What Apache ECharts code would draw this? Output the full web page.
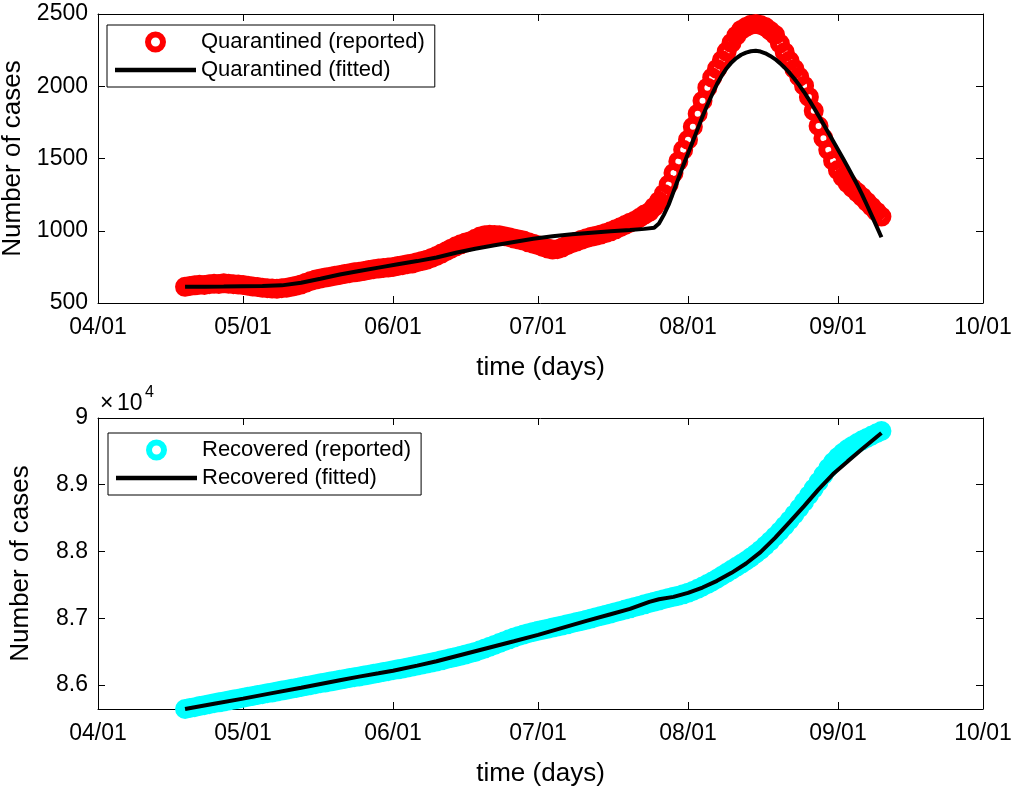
<!DOCTYPE html>
<html>
<head>
<meta charset="utf-8">
<script src="https://cdn.jsdelivr.net/npm/echarts@6/dist/echarts.min.js"></script>
<style>
html,body{margin:0;padding:0;background:#fff;}
#chart{width:1021px;height:798px;}
</style>
</head>
<body>
<div id="chart"></div>
<script>
// ---------- data ----------
// reported series start on 2020-04-19, one value per day
const reportStart = '2020-04-19';
const monthTicks = ['2020-04-01','2020-05-01','2020-06-01','2020-07-01','2020-08-01','2020-09-01','2020-10-01'];
const axisStart = '2020-04-01';
const axisEnd = '2020-10-01';

const quarantinedReported = [
  612, 618, 622, 626, 625, 630, 633, 632, 636, 634,
  630, 628, 624, 620, 614, 610, 605, 602, 600, 599,
  602, 606, 612, 620, 628, 640, 652, 662, 670, 676,
  682, 688, 694, 700, 706, 712, 716, 722, 728, 734,
  738, 742, 746, 750, 756, 762, 768, 774, 782, 790,
  800, 812, 826, 842, 858, 876, 892, 906, 918, 928,
  944, 960, 968, 972, 970, 968, 962, 955, 946, 940,
  932, 920, 910, 900, 888, 878, 870, 872, 884, 900,
  914, 926, 938, 948, 958, 966, 974, 984, 996, 1010,
  1024, 1040, 1056, 1070, 1090, 1112, 1130, 1165, 1205, 1255,
  1320, 1400, 1480, 1560, 1630, 1720, 1810, 1900, 1990, 2060,
  2120, 2180, 2240, 2300, 2350, 2390, 2410, 2426, 2430, 2424,
  2410, 2384, 2356, 2296, 2236, 2176, 2120, 2066, 2004, 1926,
  1830, 1725, 1640, 1560, 1485, 1420, 1370, 1330, 1296, 1266,
  1234, 1200, 1166, 1132, 1098
];

// fitted curve sampled at these days after 04/01
const quarantinedFitDays = [18, 22, 26, 30, 34, 38, 42, 46, 50, 54, 58, 62, 66, 70, 74, 78, 82, 86, 90, 94, 98, 102, 106, 110, 113, 115,
  116, 117, 118, 119, 120, 121, 122, 123, 124, 125, 126, 127, 128, 129, 130, 131, 132, 133, 134, 135, 136, 137, 138, 139,
  140, 141, 142, 143, 144, 145, 146, 147, 148, 149, 150, 151, 152, 153, 154, 155, 156, 157, 158, 159, 160, 161, 162];
const quarantinedFitted = [612, 613, 614, 616, 618, 622, 640, 668, 697, 722, 745, 768, 790, 815, 848, 876, 900, 922, 944, 962, 975, 986, 996, 1005, 1013, 1020,
  1050, 1110, 1180, 1270, 1360, 1450, 1535, 1620, 1705, 1790, 1870, 1945, 2015, 2075, 2125, 2165, 2195, 2218, 2233, 2242, 2245, 2240, 2228, 2210,
  2188, 2160, 2128, 2092, 2052, 2008, 1960, 1908, 1853, 1796, 1738, 1680, 1621, 1562, 1503, 1443, 1381, 1318, 1250, 1178, 1105, 1030, 955];

const recoveredReported = [
  85640, 85655, 85668, 85684, 85697, 85712, 85726, 85740, 85754, 85768,
  85781, 85795, 85810, 85823, 85836, 85849, 85862, 85876, 85889, 85902,
  85916, 85929, 85943, 85956, 85969, 85983, 85997, 86011, 86025, 86038,
  86051, 86064, 86077, 86090, 86103, 86116, 86128, 86141, 86154, 86167,
  86180, 86193, 86206, 86220, 86234, 86248, 86262, 86277, 86292, 86307,
  86322, 86337, 86353, 86369, 86386, 86403, 86420, 86438, 86456, 86475,
  86495, 86520, 86546, 86572, 86600, 86628, 86656, 86684, 86710, 86734,
  86756, 86776, 86795, 86812, 86828, 86844, 86860, 86876, 86892, 86908,
  86925, 86942, 86960, 86978, 86996, 87015, 87034, 87053, 87072, 87091,
  87110, 87129, 87148, 87168, 87188, 87208, 87228, 87248, 87267, 87285,
  87303, 87320, 87338, 87358, 87380, 87408, 87440, 87475, 87512, 87550,
  87592, 87636, 87680, 87725, 87770, 87815, 87862, 87912, 87966, 88024,
  88088, 88156, 88228, 88304, 88384, 88468, 88556, 88648, 88744, 88842,
  88942, 89044, 89148, 89250, 89340, 89415, 89480, 89535, 89582, 89625,
  89665, 89702, 89738, 89772, 89805
];

const recoveredFitDays = [18, 24, 30, 36, 42, 46, 50, 54, 58, 61, 66, 70, 74, 78, 82, 86, 91, 96, 101, 106, 110, 114, 116, 119, 122,
  125, 128, 131, 134, 137, 140, 143, 146, 149, 152, 155, 158, 162];
const recoveredFitted = [85640, 85718, 85795, 85878, 85958, 86014, 86070, 86125, 86175, 86213, 86290, 86355, 86430, 86505, 86580, 86655, 86750, 86855, 86960, 87060, 87140, 87245, 87285, 87320, 87380,
  87460, 87560, 87680, 87820, 87990, 88205, 88440, 88680, 88930, 89160, 89350, 89535, 89775];

const quarantinedTicks = [500, 1000, 1500, 2000, 2500];
const recoveredTicks = [86000, 87000, 88000, 89000, 90000];

// ---------- helpers ----------
function parseDay(s) { const p = s.split('-').map(Number); return new Date(p[0], p[1] - 1, p[2]); }
function addDays(s, n) { const d = parseDay(s); return new Date(d.getFullYear(), d.getMonth(), d.getDate() + n).getTime(); }
function pad(n) { return (n < 10 ? '0' : '') + n; }
function fmtDate(v) { const d = new Date(Math.round(v)); return pad(d.getMonth() + 1) + '/' + pad(d.getDate()); }

const tickTimes = monthTicks.map(s => parseDay(s).getTime());
const tMin = parseDay(axisStart).getTime();
const tMax = parseDay(axisEnd).getTime();

const FONT = '"Liberation Sans", Arial, Helvetica, sans-serif';
const BLACK = '#000';

function xAxisPair(gridIndex) {
  const base = {
    type: 'value', gridIndex: gridIndex, min: tMin, max: tMax,
    axisLine: { show: true, onZero: false, lineStyle: { color: BLACK, width: 1 } },
    axisTick: { show: true, inside: true, length: 7, customValues: tickTimes, lineStyle: { color: BLACK, width: 1 } },
    splitLine: { show: false }, minorTick: { show: false }, minorSplitLine: { show: false }
  };
  return [
    Object.assign({}, base, {
      position: 'bottom',
      axisLabel: { show: true, customValues: tickTimes, formatter: fmtDate, fontSize: 23, color: BLACK, fontFamily: FONT, margin: 13, showMinLabel: true, showMaxLabel: true, hideOverlap: false },
      name: 'time (days)', nameLocation: 'middle', nameGap: 52,
      nameTextStyle: { fontSize: 26, color: BLACK, fontFamily: FONT }
    }),
    Object.assign({}, base, { position: 'top', axisLabel: { show: false }, name: '' })
  ];
}

function yAxisPair(gridIndex, min, max, ticks, fmt) {
  const base = {
    type: 'value', gridIndex: gridIndex, min: min, max: max,
    axisLine: { show: true, onZero: false, lineStyle: { color: BLACK, width: 1 } },
    axisTick: { show: true, inside: true, length: 7, customValues: ticks, lineStyle: { color: BLACK, width: 1 } },
    splitLine: { show: false }
  };
  return [
    Object.assign({}, base, {
      position: 'left',
      axisLabel: { show: true, customValues: ticks, formatter: fmt, fontSize: 23, color: BLACK, fontFamily: FONT, margin: 10, showMinLabel: true, showMaxLabel: true },
      name: 'Number of cases', nameLocation: 'middle', nameGap: 64, nameRotate: 90,
      nameTextStyle: { fontSize: 26, color: BLACK, fontFamily: FONT }
    }),
    Object.assign({}, base, { position: 'right', axisLabel: { show: false }, name: '' })
  ];
}

function reportedSeries(name, values, color, axisIdx) {
  return {
    name: name, type: 'scatter', xAxisIndex: axisIdx, yAxisIndex: axisIdx,
    data: values.map((v, i) => [addDays(reportStart, i), v]),
    symbol: 'circle', symbolSize: 13,
    itemStyle: { color: 'rgba(0,0,0,0)', borderColor: color, borderWidth: 7, opacity: 1 },
    emphasis: { disabled: true }, z: 2, clip: false
  };
}
function fittedSeries(name, days, values, axisIdx) {
  return {
    name: name, type: 'line', xAxisIndex: axisIdx, yAxisIndex: axisIdx,
    data: days.map((d, i) => [addDays(axisStart, d), values[i]]),
    symbol: 'none', showSymbol: false, smooth: false,
    lineStyle: { color: BLACK, width: 4 }, itemStyle: { color: BLACK },
    emphasis: { disabled: true }, z: 3
  };
}

const LINE_ICON = 'path://M0,0L81,0L81,4.5L0,4.5Z';
const legendCommon = {
  orient: 'vertical', itemWidth: 81, itemHeight: 15, itemGap: 6,
  padding: [6, 10, 6, 8], borderColor: BLACK, borderWidth: 1, backgroundColor: '#fff',
  textStyle: { fontSize: 22, color: BLACK, fontFamily: FONT }, selectedMode: false, z: 10
};

const chart = echarts.init(document.getElementById('chart'), null, { renderer: 'canvas' });
chart.setOption({
  animation: false,
  backgroundColor: '#fff',
  grid: [
    { left: 98, top: 14, width: 885, height: 289, containLabel: false, outerBoundsMode: 'none' },
    { left: 98, top: 418, width: 885, height: 291, containLabel: false, outerBoundsMode: 'none' }
  ],
  xAxis: [].concat(xAxisPair(0), xAxisPair(1)),
  yAxis: [].concat(
    yAxisPair(0, 500, 2500, quarantinedTicks, v => String(v)),
    yAxisPair(1, 85640, 90000, recoveredTicks, v => String(+(v / 10000).toFixed(1)))
  ),
  legend: [
    Object.assign({}, legendCommon, {
      left: 107, top: 25,
      data: [
        { name: 'Quarantined (reported)', icon: 'circle', itemStyle: { color: 'rgba(0,0,0,0)', borderColor: '#ff0000', borderWidth: 6, opacity: 1 } },
        { name: 'Quarantined (fitted)', icon: LINE_ICON, itemStyle: { color: BLACK, borderWidth: 0, opacity: 1 } }
      ]
    }),
    Object.assign({}, legendCommon, {
      left: 108, top: 433,
      data: [
        { name: 'Recovered (reported)', icon: 'circle', itemStyle: { color: 'rgba(0,0,0,0)', borderColor: '#00ffff', borderWidth: 6, opacity: 1 } },
        { name: 'Recovered (fitted)', icon: LINE_ICON, itemStyle: { color: BLACK, borderWidth: 0, opacity: 1 } }
      ]
    })
  ],
  graphic: [
    { type: 'text', x: 100, y: 392, style: { text: '×', fontSize: 23, fontFamily: FONT, fill: BLACK, align: 'left', verticalAlign: 'top' } },
    { type: 'text', x: 117, y: 392, style: { text: '10', fontSize: 23, fontFamily: FONT, fill: BLACK, align: 'left', verticalAlign: 'top' } },
    { type: 'text', x: 145, y: 385, style: { text: '4', fontSize: 16, fontFamily: FONT, fill: BLACK, align: 'left', verticalAlign: 'top' } }
  ],
  series: [
    reportedSeries('Quarantined (reported)', quarantinedReported, '#ff0000', 0),
    fittedSeries('Quarantined (fitted)', quarantinedFitDays, quarantinedFitted, 0),
    reportedSeries('Recovered (reported)', recoveredReported, '#00ffff', 2),
    fittedSeries('Recovered (fitted)', recoveredFitDays, recoveredFitted, 2)
  ]
});
</script>
</body>
</html>
